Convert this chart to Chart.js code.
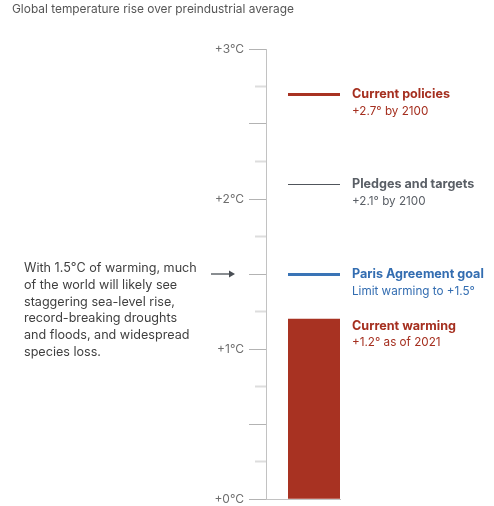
<!DOCTYPE html>
<html><head><meta charset="utf-8">
<script src="https://cdn.jsdelivr.net/npm/chart.js@4.4.1/dist/chart.umd.min.js"></script>
<style>html,body{margin:0;padding:0;background:#fff}#wrap{width:494px;height:506px;position:relative}</style>
</head><body><div id="wrap"><canvas id="c" width="494" height="506"></canvas></div>
<script>
// ---- data ----
const chartTitle = 'Global temperature rise over preindustrial average';
const categories = ['Current warming'];
const warmingValues = [1.2];
const warmingNotes = ['+1.2° as of 2021'];
const refNames = ['Current policies', 'Pledges and targets', 'Paris Agreement goal'];
const refValues = [2.7, 2.1, 1.5];
const refNotes = ['+2.7° by 2100', '+2.1° by 2100', 'Limit warming to +1.5°'];
const tickLabels = ['+0°C', '+1°C', '+2°C', '+3°C'];
const annotationValue = 1.5;
const annotationLines = [
  'With 1.5°C of warming, much',
  'of the world will likely see',
  'staggering sea-level rise,',
  'record-breaking droughts',
  'and floods, and widespread',
  'species loss.'
];

// ---- styles ----
const FONT = 'Inter, "Noto Sans", sans-serif';
const refStyles = [
  {line: '#a83222', width: 3, text: '#a52f1f'},
  {line: '#50555b', width: 1, text: '#5a5f66'},
  {line: '#3a74b6', width: 3, text: '#336db1'}
];
const barStyle = {fill: '#a83222', text: '#a52f1f'};
const axisColor = '#c2c2c2';

const overlay = {
  id: 'overlay',
  afterDatasetsDraw(chart) {
    const {ctx, chartArea: ca} = chart;
    const y = chart.scales.y;
    ctx.save();
    // title
    ctx.fillStyle = '#555';
    ctx.font = '11.9px ' + FONT;
    ctx.textBaseline = 'middle';
    ctx.textAlign = 'left';
    ctx.fillText(chartTitle, 12, 9);
    // reference lines + labels
    const lx = ca.right + 12;
    refValues.forEach((v, i) => {
      const py = y.getPixelForValue(v);
      const s = refStyles[i];
      const ly = (s.width % 2 === 1) ? Math.round(py) + 0.5 : py;
      ctx.strokeStyle = s.line; ctx.lineWidth = s.width;
      ctx.beginPath(); ctx.moveTo(ca.left, ly); ctx.lineTo(ca.right, ly); ctx.stroke();
      ctx.fillStyle = s.text;
      ctx.font = 'bold 12.6px ' + FONT;
      ctx.fillText(refNames[i], lx, py);
      ctx.font = '11.7px ' + FONT;
      ctx.fillText(refNotes[i], lx, py + 17);
    });
    // bar label
    const meta = chart.getDatasetMeta(0);
    meta.data.forEach((bar, i) => {
      ctx.fillStyle = barStyle.text;
      ctx.font = 'bold 12.6px ' + FONT;
      ctx.fillText(categories[i], lx, bar.y + 7);
      ctx.font = '11.7px ' + FONT;
      ctx.fillText(warmingNotes[i], lx, bar.y + 23);
    });
    // annotation
    const ay = y.getPixelForValue(annotationValue);
    ctx.fillStyle = '#3f3f3f';
    ctx.font = '12.6px ' + FONT;
    annotationLines.forEach((t, i) => ctx.fillText(t, 24, ay - 6 + i * 16.9));
    // arrow
    ctx.strokeStyle = '#4a4f55'; ctx.lineWidth = 1.3;
    ctx.beginPath(); ctx.moveTo(211, ay); ctx.lineTo(230, ay); ctx.stroke();
    ctx.fillStyle = '#4a4f55';
    ctx.beginPath(); ctx.moveTo(235, ay); ctx.lineTo(229, ay - 3.5); ctx.lineTo(229, ay + 3.5); ctx.closePath(); ctx.fill();
    ctx.restore();
  }
};

const isQuarter = v => Math.abs(v * 2 - Math.round(v * 2)) > 1e-6;

new Chart(document.getElementById('c'), {
  type: 'bar',
  data: {
    labels: categories,
    datasets: [{
      data: warmingValues,
      backgroundColor: barStyle.fill,
      borderWidth: 0,
      barPercentage: 1,
      categoryPercentage: 1
    }]
  },
  options: {
    responsive: false,
    animation: false,
    devicePixelRatio: 1,
    layout: {padding: {top: 49, bottom: 7, left: 0, right: 154}},
    plugins: {legend: {display: false}, tooltip: {enabled: false}, title: {display: false}},
    scales: {
      x: {
        type: 'category', offset: true,
        grid: {display: false},
        ticks: {display: false},
        border: {display: true, color: axisColor, width: 1},
        afterFit(s) { s.height = 0; }
      },
      y: {
        position: 'left', weight: 1, min: 0, max: 3,
        ticks: {
          stepSize: 0.25, autoSkip: false, padding: 5, color: '#6e6e6e',
          font: {family: FONT, size: 12},
          callback(v) { return Number.isInteger(v) ? tickLabels[v] : ''; }
        },
        grid: {
          drawOnChartArea: false, tickLength: 17,
          tickColor: c => (c.tick && isQuarter(c.tick.value)) ? '#dddddd' : '#b3b3b3',
          tickWidth: c => (c.tick && isQuarter(c.tick.value)) ? 2 : 1,
          tickBorderDash: c => (c.tick && isQuarter(c.tick.value)) ? [0, 6, 11, 100] : []
        },
        border: {display: true, color: axisColor, width: 1},
        afterFit(s) { s.width = 266; s.paddingTop = 0; s.paddingBottom = 0; }
      },
      y2: {
        position: 'left', weight: 0, min: 0, max: 3,
        ticks: {display: false, stepSize: 3},
        grid: {
          drawOnChartArea: false, tickLength: 22,
          tickColor: c => (c.tick && c.tick.value === 0) ? axisColor : 'rgba(0,0,0,0)'
        },
        border: {display: false},
        afterFit(s) { s.width = 22; s.paddingTop = 0; s.paddingBottom = 0; }
      }
    }
  },
  plugins: [overlay]
});
</script>
</body></html>
